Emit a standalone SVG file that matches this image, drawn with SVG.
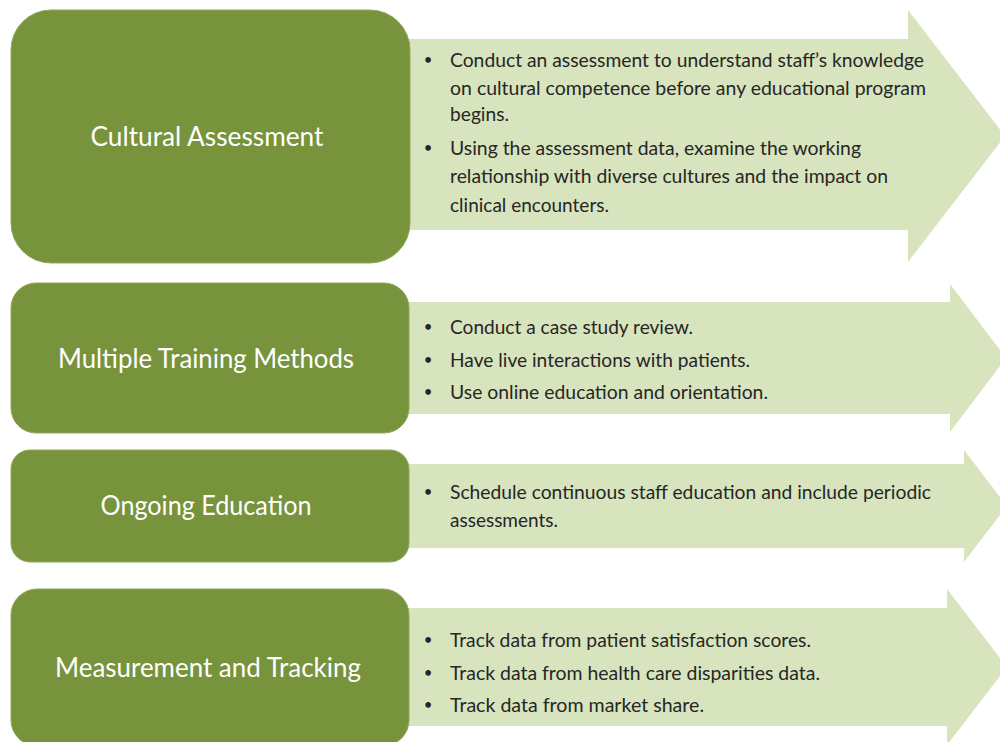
<svg xmlns="http://www.w3.org/2000/svg" width="1000" height="742" viewBox="0 0 1000 742">
<style>
.arrow{fill:#D7E4BD}
.box{fill:#77933C;stroke:#8FA85A;stroke-width:1}
.title{font-family:Lato,"Open Sans",sans-serif;font-size:26px;fill:#FFFFFF;text-anchor:middle}
.bul{font-family:Lato,"Open Sans",sans-serif;font-size:20px;fill:#262626}
.dot{font-family:Lato,"Open Sans",sans-serif;font-size:15px;fill:#262626;text-anchor:middle}
</style>
<rect width="1000" height="742" fill="#FFFFFF"/>
<g id="connectors">
<polygon class="arrow" points="405,39 908,39 908,10 1005,136 908,262 908,230 405,230"/>
<polygon class="arrow" points="405,302 950,302 950,284 1006,358 950,432 950,414 405,414"/>
<polygon class="arrow" points="405,464 964,464 964,450 1007,506 964,562 964,548 405,548"/>
<polygon class="arrow" points="405,608 947,608 947,589 1007,667 947,745 947,726 405,726"/>
</g>
<g id="node-cultural-assessment">
<rect class="box" x="11" y="10" width="399" height="253" rx="40" ry="40"/>
<text class="title" x="207" y="146" textLength="233" lengthAdjust="spacingAndGlyphs">Cultural Assessment</text>
</g>
<g id="details-cultural-assessment">
<text class="dot" x="428" y="65">•</text>
<text class="bul" x="450" y="67" textLength="474" lengthAdjust="spacingAndGlyphs">Conduct an assessment to understand staff’s knowledge</text>
<text class="bul" x="450" y="95" textLength="476" lengthAdjust="spacingAndGlyphs">on cultural competence before any educational program</text>
<text class="bul" x="450" y="121" textLength="59" lengthAdjust="spacingAndGlyphs">begins.</text>
<text class="dot" x="428" y="153">•</text>
<text class="bul" x="450" y="155" textLength="411" lengthAdjust="spacingAndGlyphs">Using the assessment data, examine the working</text>
<text class="bul" x="450" y="183" textLength="438" lengthAdjust="spacingAndGlyphs">relationship with diverse cultures and the impact on</text>
<text class="bul" x="450" y="212" textLength="159" lengthAdjust="spacingAndGlyphs">clinical encounters.</text>
</g>
<g id="node-multiple-training-methods">
<rect class="box" x="11" y="283" width="398" height="150" rx="25" ry="25"/>
<text class="title" x="206" y="368" textLength="296" lengthAdjust="spacingAndGlyphs">Multiple Training Methods</text>
</g>
<g id="details-multiple-training-methods">
<text class="dot" x="428" y="332">•</text>
<text class="bul" x="450" y="334" textLength="243" lengthAdjust="spacingAndGlyphs">Conduct a case study review.</text>
<text class="dot" x="428" y="365">•</text>
<text class="bul" x="450" y="367" textLength="300" lengthAdjust="spacingAndGlyphs">Have live interactions with patients.</text>
<text class="dot" x="428" y="397">•</text>
<text class="bul" x="450" y="399" textLength="318" lengthAdjust="spacingAndGlyphs">Use online education and orientation.</text>
</g>
<g id="node-ongoing-education">
<rect class="box" x="11" y="450" width="398" height="112" rx="19" ry="19"/>
<text class="title" x="206" y="515" textLength="211" lengthAdjust="spacingAndGlyphs">Ongoing Education</text>
</g>
<g id="details-ongoing-education">
<text class="dot" x="428" y="497">•</text>
<text class="bul" x="450" y="499" textLength="481" lengthAdjust="spacingAndGlyphs">Schedule continuous staff education and include periodic</text>
<text class="bul" x="450" y="527" textLength="108" lengthAdjust="spacingAndGlyphs">assessments.</text>
</g>
<g id="node-measurement-and-tracking">
<rect class="box" x="11" y="589" width="398" height="157" rx="26" ry="26"/>
<text class="title" x="208" y="677" textLength="306" lengthAdjust="spacingAndGlyphs">Measurement and Tracking</text>
</g>
<g id="details-measurement-and-tracking">
<text class="dot" x="428" y="645">•</text>
<text class="bul" x="450" y="647" textLength="361" lengthAdjust="spacingAndGlyphs">Track data from patient satisfaction scores.</text>
<text class="dot" x="428" y="678">•</text>
<text class="bul" x="450" y="680" textLength="370" lengthAdjust="spacingAndGlyphs">Track data from health care disparities data.</text>
<text class="dot" x="428" y="710">•</text>
<text class="bul" x="450" y="712" textLength="254" lengthAdjust="spacingAndGlyphs">Track data from market share.</text>
</g>
</svg>
